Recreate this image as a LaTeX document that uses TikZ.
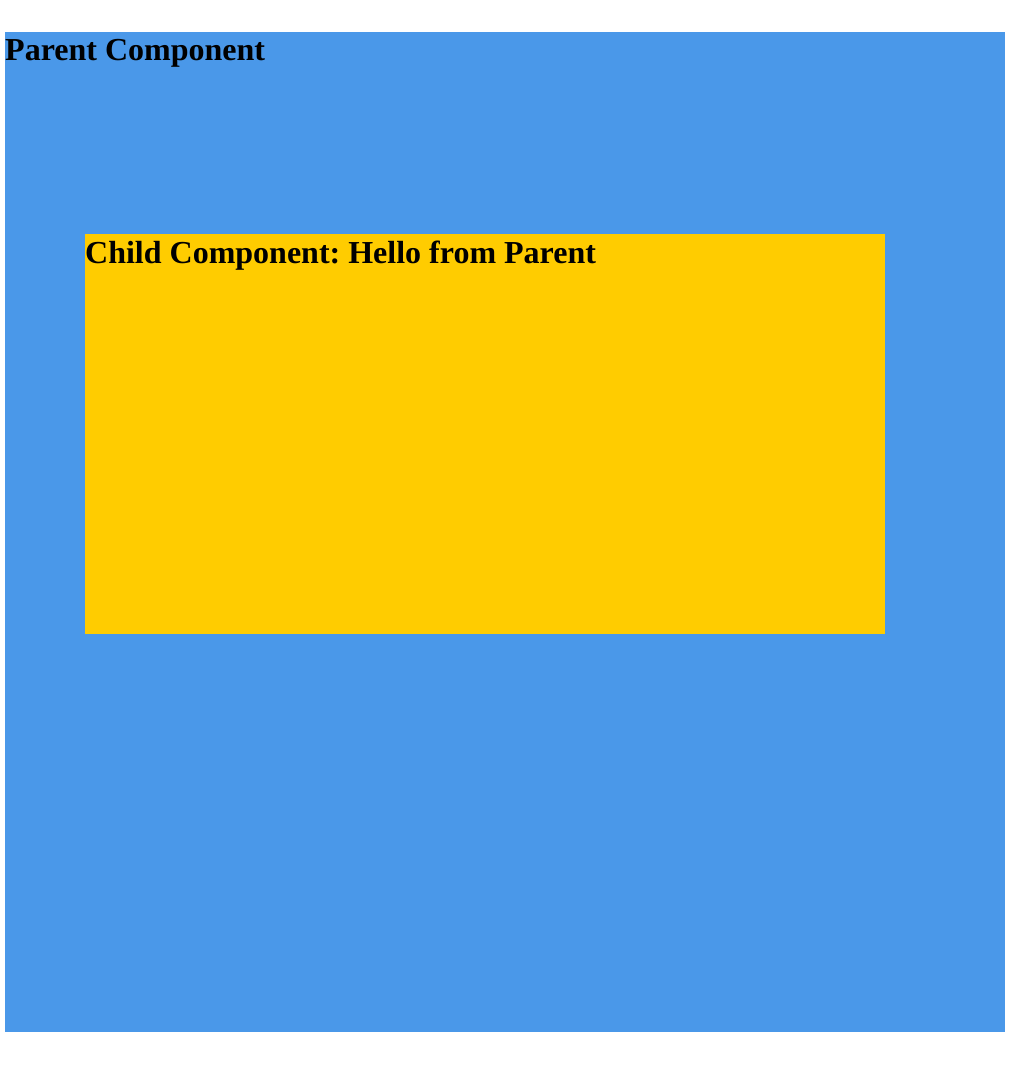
\documentclass[tikz,border=0pt]{standalone}
\usepackage{fontspec}
\setmainfont{Liberation Serif}
\frenchspacing
\definecolor{parentblue}{HTML}{4A98E9}
\definecolor{childyellow}{HTML}{FFCC00}
\begin{document}
\begin{tikzpicture}[x=1pt,y=-1pt,
  box/.style={rectangle,inner sep=0pt,outer sep=0pt,draw=none,anchor=north west},
  heading/.style={inner sep=0pt,anchor=base west,font=\fontsize{32}{37}\selectfont\bfseries\frenchspacing,text=black}]
\useasboundingbox[fill=white] (0,0) rectangle (1034,1065);
\node[box,fill=parentblue,minimum width=1000pt,minimum height=1000pt] (parent) at (5,32) {};
\node[box,fill=childyellow,minimum width=800pt,minimum height=400pt] (child) at (85,234) {};
\node[heading] (parenttitle) at (5,61) {Parent Component};
\node[heading] (childtitle) at (85,263) {Child Component: Hello from Parent};
\end{tikzpicture}
\end{document}
